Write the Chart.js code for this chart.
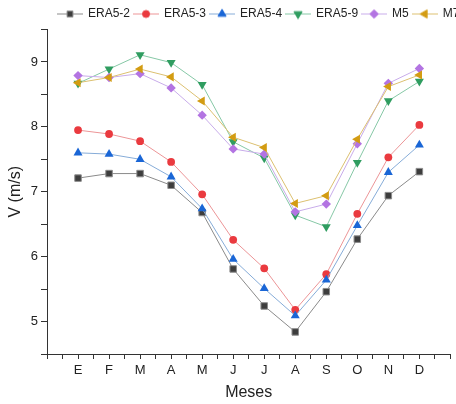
<!DOCTYPE html>
<html>
<head>
<meta charset="utf-8">
<script src="https://cdn.jsdelivr.net/npm/chart.js@4/dist/chart.umd.min.js"></script>
<style>
  html, body { margin: 0; padding: 0; background: #fff; overflow: hidden; }
  #wrap { width: 456px; height: 404px; }
</style>
</head>
<body>
<div id="wrap"><canvas id="chart"></canvas></div>
<script>
// ---- datos ----
const meses = ["E", "F", "M", "A", "M", "J", "J", "A", "S", "O", "N", "D"];
const series = ["ERA5-2", "ERA5-3", "ERA5-4", "ERA5-9", "M5", "M7"];

const era52 = [7.21, 7.28, 7.28, 7.10, 6.68, 5.81, 5.24, 4.84, 5.46, 6.27, 6.94, 7.31];
const era53 = [7.95, 7.89, 7.78, 7.46, 6.96, 6.26, 5.82, 5.18, 5.73, 6.66, 7.53, 8.03];
const era54 = [7.60, 7.58, 7.50, 7.23, 6.74, 5.96, 5.51, 5.09, 5.64, 6.48, 7.30, 7.72];
const era59 = [8.67, 8.89, 9.11, 8.99, 8.65, 7.77, 7.52, 6.64, 6.46, 7.45, 8.40, 8.70];
const m5    = [8.79, 8.76, 8.82, 8.60, 8.18, 7.66, 7.58, 6.69, 6.81, 7.74, 8.67, 8.90];
const m7    = [8.68, 8.76, 8.89, 8.77, 8.40, 7.84, 7.68, 6.82, 6.94, 7.81, 8.62, 8.80];

const yTicks = [5, 6, 7, 8, 9];

// ---- estilos ----
const styles = [
  { fill: "#3d3d3d", border: "#8c8c8c", line: "#8a8a8a", shape: "rect", rot: 0, r: 4.6 },
  { fill: "#ea3a3f", border: "#ea3a3f", line: "#ec9597", shape: "circle", rot: 0, r: 3.9 },
  { fill: "#1a66d6", border: "#1a66d6", line: "#86acd8", shape: "triangle", rot: 0, r: 5.2 },
  { fill: "#2f9d60", border: "#2f9d60", line: "#86c8a6", shape: "triangle", rot: 180, r: 5.2 },
  { fill: "#b374e2", border: "#b374e2", line: "#c8acea", shape: "rectRot", rot: 0, r: 4.7 },
  { fill: "#d39c12", border: "#d39c12", line: "#dcc070", shape: "triangle", rot: 270, r: 5.2 }
];
const valores = [era52, era53, era54, era59, m5, m7];

const datasets = valores.map((vals, i) => ({
  label: series[i],
  data: vals.map((v, k) => ({ x: k + 1, y: v })),
  borderColor: styles[i].line,
  borderWidth: 1,
  backgroundColor: styles[i].fill,
  pointBackgroundColor: styles[i].fill,
  pointBorderColor: styles[i].border,
  pointBorderWidth: i === 0 ? 1 : 0,
  pointStyle: styles[i].shape,
  pointRotation: styles[i].rot,
  pointRadius: styles[i].r,
  pointHoverRadius: styles[i].r,
  tension: 0,
  order: 6 - i
}));

// muestra de leyenda: linea + simbolo
function legendIcon(i) {
  const c = document.createElement("canvas");
  c.width = 26; c.height = 12;
  const ctx = c.getContext("2d");
  ctx.strokeStyle = styles[i].line;
  ctx.lineWidth = 1;
  ctx.beginPath();
  ctx.moveTo(0, 6.5); ctx.lineTo(26, 6.5);
  ctx.stroke();
  ctx.fillStyle = styles[i].fill;
  ctx.strokeStyle = styles[i].border;
  ctx.lineWidth = i === 0 ? 1 : 0;
  Chart.helpers.drawPoint(ctx, {
    pointStyle: styles[i].shape,
    rotation: styles[i].rot,
    radius: styles[i].r * 0.9,
    borderWidth: ctx.lineWidth
  }, 13, 6.5);
  return c;
}

const shiftLegend = {
  id: "shiftLegend",
  afterLayout(chart) {
    const lg = chart.legend;
    if (!lg) return;
    lg.left = 54;
    lg.right = 700;
  }
};

new Chart(document.getElementById("chart"), {
  type: "line",
  data: { datasets: datasets },
  plugins: [shiftLegend],
  options: {
    responsive: true,
    maintainAspectRatio: false,
    animation: false,
    layout: { padding: { top: 3.5, right: 4, left: 0, bottom: 0 } },
    plugins: {
      tooltip: { enabled: false },
      legend: {
        position: "top",
        align: "start",
        labels: {
          usePointStyle: true,
          pointStyleWidth: 24,
          boxHeight: 12,
          padding: 4,
          color: "#222",
          font: { family: "Liberation Sans, Arial, sans-serif", size: 12 },
          generateLabels: () => series.map((s, i) => ({
            text: s,
            pointStyle: legendIcon(i),
            datasetIndex: i,
            fontColor: "#222",
            lineWidth: 0,
            hidden: false
          }))
        }
      }
    },
    scales: {
      x: {
        type: "linear",
        min: 0,
        max: 13,
        afterFit: (s) => { s.height = 50; },
        afterBuildTicks: (s) => {
          const t = [];
          for (let k = 0; k <= 26; k++) t.push({ value: k / 2 });
          s.ticks = t;
        },
        border: { color: "#333", width: 1 },
        grid: { drawOnChartArea: false, tickLength: 5, color: "#333" },
        ticks: {
          autoSkip: false,
          maxRotation: 0,
          padding: 4,
          color: "#222",
          font: { family: "Liberation Sans, Arial, sans-serif", size: 13 },
          callback: (v) => (Number.isInteger(v) && v >= 1 && v <= 12) ? meses[v - 1] : ""
        },
        title: {
          display: true,
          text: "Meses",
          color: "#222",
          font: { family: "Liberation Sans, Arial, sans-serif", size: 16 },
          padding: { top: 0, bottom: 1.5 }
        }
      },
      y: {
        min: 4.5,
        max: 9.5,
        afterFit: (s) => { s.width = 47; },
        afterBuildTicks: (s) => {
          const t = [];
          for (let v = 4.5; v <= 9.5001; v += 0.5) t.push({ value: Math.round(v * 10) / 10 });
          s.ticks = t;
        },
        border: { color: "#333", width: 1 },
        grid: { drawOnChartArea: false, tickLength: 6, color: "#333" },
        ticks: {
          autoSkip: false,
          padding: 3,
          color: "#222",
          font: { family: "Liberation Sans, Arial, sans-serif", size: 13 },
          callback: (v) => yTicks.includes(v) ? String(v) : ""
        },
        title: {
          display: true,
          text: "V (m/s)",
          color: "#222",
          font: { family: "Liberation Sans, Arial, sans-serif", size: 16 },
          padding: { top: 5.5, bottom: 0 }
        }
      }
    }
  }
});
</script>
</body>
</html>
